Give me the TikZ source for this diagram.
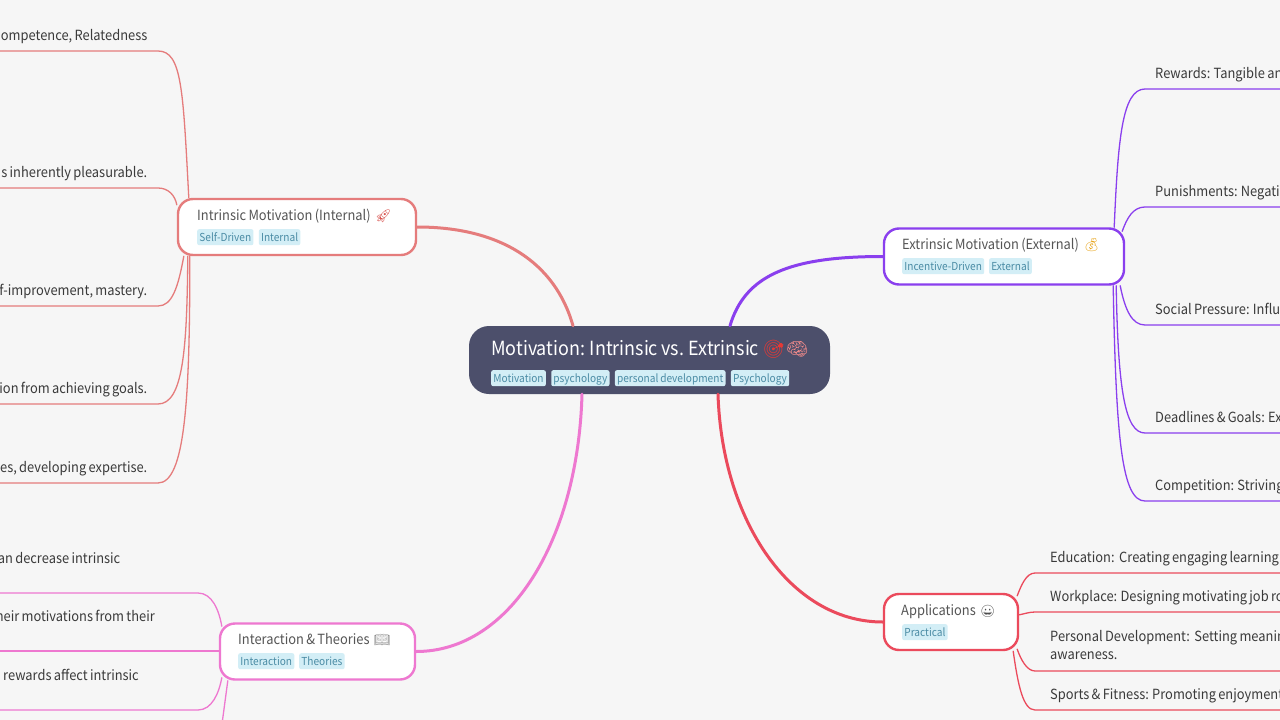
\documentclass[tikz,border=0pt]{standalone}
\usepackage{fontspec}
\setmainfont[FakeStretch=0.92,WordSpace=0.8]{Noto Sans CJK SC}
\newfontfamily\emojifont{Noto Emoji}
\usetikzlibrary{positioning}
\definecolor{pagebg}{HTML}{F6F6F6}
\definecolor{rootfill}{HTML}{4C4F6B}
\definecolor{intrinsiccol}{HTML}{E57C7C}
\definecolor{extrinsiccol}{HTML}{8A3FEE}
\definecolor{applicationscol}{HTML}{EB4A5C}
\definecolor{interactioncol}{HTML}{EE78D0}
\definecolor{tagfill}{HTML}{D3EEF6}
\definecolor{tagtext}{HTML}{4B8CA5}
\definecolor{leaftext}{HTML}{3A3A3A}
\definecolor{titletext}{HTML}{555555}
\definecolor{targetcol}{HTML}{E53935}
\definecolor{braincol}{HTML}{F08A8A}
\definecolor{rocketcol}{HTML}{D9534F}
\definecolor{moneycol}{HTML}{E8A317}
\begin{document}
\begin{tikzpicture}[x=1pt,y=-1pt,line cap=round,line join=round,
  rootbox/.style={fill=rootfill,rounded corners=20pt,inner sep=0pt},
  branchbox/.style={fill=white,line width=2.4pt,rounded corners=15pt,inner sep=0pt},
  roottitle/.style={anchor=base west,inner sep=0pt,text=white,font=\fontsize{19.5}{24}\selectfont},
  branchtitle/.style={anchor=base west,inner sep=0pt,text=titletext,font=\fontsize{14}{18}\selectfont},
  tagbox/.style={fill=tagfill,text=tagtext,rounded corners=2pt,inner xsep=2.2pt,inner ysep=2pt,text height=10pt,text depth=2pt,font=\fontsize{11}{13}\selectfont},
  leafleft/.style={anchor=base east,inner sep=0pt,text=leaftext,font=\fontsize{14}{18}\selectfont},
  leafright/.style={anchor=base west,inner sep=0pt,text=leaftext,font=\fontsize{14}{18}\selectfont},
  emojitext/.style={anchor=base west,inner sep=0pt},
  mainlink/.style={line width=3pt},
  leaflink/.style={line width=1.3pt}]
\path[use as bounding box,fill=pagebg] (0,0) rectangle (1280,720);
\node[rootbox,minimum width=361pt,minimum height=68pt] (root) at (649.5,360) {};
\node[branchbox,draw=intrinsiccol,minimum width=238pt,minimum height=56pt] (intrinsic) at (297,227) {};
\node[branchbox,draw=extrinsiccol,minimum width=240pt,minimum height=56pt] (extrinsic) at (1004,256.5) {};
\node[branchbox,draw=applicationscol,minimum width=134pt,minimum height=56pt] (applications) at (951,622) {};
\node[branchbox,draw=interactioncol,minimum width=195pt,minimum height=56pt] (interaction) at (317.5,651.5) {};
\coordinate (leafa) at (158,51);
\coordinate (leafb) at (158,188);
\coordinate (leafc) at (158,306);
\coordinate (leafd) at (158,404);
\coordinate (leafe) at (158,483);
\coordinate (lefta) at (0,51);
\coordinate (leftb) at (0,188);
\coordinate (leftc) at (0,306);
\coordinate (leftd) at (0,404);
\coordinate (lefte) at (0,483);
\coordinate (rewa) at (1145,89);
\coordinate (rewb) at (1145,207);
\coordinate (rewc) at (1145,325);
\coordinate (rewd) at (1145,433);
\coordinate (rewe) at (1145,501);
\coordinate (righta) at (1280,89);
\coordinate (rightb) at (1280,207);
\coordinate (rightc) at (1280,325);
\coordinate (rightd) at (1280,433);
\coordinate (righte) at (1280,501);
\coordinate (appa) at (1035,573);
\coordinate (appb) at (1035,612);
\coordinate (appc) at (1035,671);
\coordinate (appd) at (1035,710);
\coordinate (endappa) at (1280,573);
\coordinate (endappb) at (1280,612);
\coordinate (endappc) at (1280,671);
\coordinate (endappd) at (1280,710);
\coordinate (inta) at (198,593);
\coordinate (intc) at (198,710);
\coordinate (endinta) at (0,593);
\coordinate (endintb) at (0,651);
\coordinate (endintc) at (0,710);
\coordinate (endintd) at (222,724);
\draw[mainlink,draw=intrinsiccol] ([xshift=-76.5pt]root.north) .. controls (555,262) and (500,227) .. (intrinsic.east);
\draw[mainlink,draw=extrinsiccol] ([xshift=80.5pt]root.north) .. controls (745,275) and (790,256.5) .. (extrinsic.west);
\draw[mainlink,draw=applicationscol] ([xshift=68.5pt]root.south) .. controls (722,520) and (790,622) .. (applications.west);
\draw[mainlink,draw=interactioncol] ([xshift=-67.5pt]root.south) .. controls (578,540) and (510,651.5) .. (interaction.east);
\draw[leaflink,draw=intrinsiccol] ([xshift=12pt]intrinsic.north west) .. controls (183,90) and (182,51) .. (leafa) -- (lefta);
\draw[leaflink,draw=intrinsiccol] ([yshift=-7pt]intrinsic.north west) .. controls (175,195) and (168,188) .. (leafb) -- (leftb);
\draw[leaflink,draw=intrinsiccol] ([xshift=7pt]intrinsic.south west) .. controls (178,288) and (172,306) .. (leafc) -- (leftc);
\draw[leaflink,draw=intrinsiccol] ([xshift=11pt]intrinsic.south west) .. controls (187,350) and (183,404) .. (leafd) -- (leftd);
\draw[leaflink,draw=intrinsiccol] ([xshift=13pt]intrinsic.south west) .. controls (190,400) and (185,483) .. (leafe) -- (lefte);
\draw[leaflink,draw=extrinsiccol] ([xshift=-11pt]extrinsic.north east) .. controls (1118,140) and (1122,89) .. (rewa) -- (righta);
\draw[leaflink,draw=extrinsiccol] ([xshift=-3pt,yshift=-4pt]extrinsic.north east) .. controls (1127,218) and (1133,207) .. (rewb) -- (rightb);
\draw[leaflink,draw=extrinsiccol] ([xshift=-5pt]extrinsic.south east) .. controls (1125,310) and (1132,325) .. (rewc) -- (rightc);
\draw[leaflink,draw=extrinsiccol] ([xshift=-9pt]extrinsic.south east) .. controls (1118,390) and (1125,433) .. (rewd) -- (rightd);
\draw[leaflink,draw=extrinsiccol] ([xshift=-12pt]extrinsic.south east) .. controls (1116,440) and (1122,501) .. (rewe) -- (righte);
\draw[leaflink,draw=applicationscol] ([xshift=-2pt,yshift=-3pt]applications.north east) .. controls (1021,586) and (1026,573) .. (appa) -- (endappa);
\draw[leaflink,draw=applicationscol] ([yshift=-22pt]applications.north east) .. controls (1024,614) and (1029,612) .. (appb) -- (endappb);
\draw[leaflink,draw=applicationscol] ([xshift=-2pt,yshift=2pt]applications.south east) .. controls (1021,660) and (1027,671) .. (appc) -- (endappc);
\draw[leaflink,draw=applicationscol] ([xshift=-6pt]applications.south east) .. controls (1018,685) and (1023,710) .. (appd) -- (endappd);
\draw[leaflink,draw=interactioncol] ([xshift=3pt,yshift=-4pt]interaction.north west) .. controls (219,610) and (212,593) .. (inta) -- (endinta);
\draw[leaflink,draw=interactioncol] ([yshift=0.5pt]interaction.west) -- (endintb);
\draw[leaflink,draw=interactioncol] ([xshift=3pt,yshift=3pt]interaction.south west) .. controls (219,693) and (212,710) .. (intc) -- (endintc);
\draw[leaflink,draw=interactioncol] ([xshift=9pt]interaction.south west) -- (endintd);
\node[roottitle] (roottext) at (491,355) {Motivation: Intrinsic vs. Extrinsic};
\node[emojitext,text=targetcol,font=\emojifont\fontsize{18}{24}\selectfont] (rootemoja) at ([xshift=3pt]roottext.base east) {🎯};
\node[emojitext,text=braincol,font=\emojifont\fontsize{18}{24}\selectfont] (rootemojb) at (rootemoja.base east) {🧠};
\node[tagbox,anchor=north west] (tagmotivation) at (491,370) {Motivation};
\node[tagbox,right=5pt of tagmotivation] (tagpsychology) {psychology};
\node[tagbox,right=5pt of tagpsychology] (tagpersonal) {personal development};
\node[tagbox,right=5pt of tagpersonal] (tagPsychology) {Psychology};
\node[branchtitle] (intrinsictext) at (197,220.5) {Intrinsic Motivation (Internal)};
\node[emojitext,text=rocketcol,font=\emojifont\fontsize{13}{18}\selectfont] (intrinsicemoj) at ([xshift=4pt]intrinsictext.base east) {🚀};
\node[tagbox,anchor=north west] (tagselfdriven) at (197,229) {Self-Driven};
\node[tagbox,right=5pt of tagselfdriven] (taginternal) {Internal};
\node[branchtitle] (extrinsictext) at (902,249.5) {Extrinsic Motivation (External)};
\node[emojitext,text=moneycol,font=\emojifont\fontsize{13}{18}\selectfont] (extrinsicemoj) at ([xshift=4pt]extrinsictext.base east) {💰};
\node[tagbox,anchor=north west] (tagincentive) at (902,258) {Incentive-Driven};
\node[tagbox,right=4.5pt of tagincentive] (tagexternal) {External};
\node[branchtitle] (applicationstext) at (901,615.5) {Applications};
\node[emojitext,text=black!70,font=\emojifont\fontsize{12}{18}\selectfont] (applicationsemoj) at ([xshift=4pt]applicationstext.base east) {😀};
\node[tagbox,anchor=north west] (tagpractical) at (902,624) {Practical};
\node[branchtitle] (interactiontext) at (238,644.5) {Interaction \& Theories};
\node[emojitext,text=black!45,font=\emojifont\fontsize{13}{18}\selectfont] (interactionemoj) at ([xshift=4pt]interactiontext.base east) {📖};
\node[tagbox,anchor=north west] (taginteraction) at (238,653) {Interaction};
\node[tagbox,right=4.5pt of taginteraction] (tagtheories) {Theories};
\node[leafleft] (textinta) at (147.5,40) {ompetence, Relatedness};
\node[leafleft] (textintb) at (147.5,177) {s inherently pleasurable.};
\node[leafleft] (textintc) at (147.5,295) {f-improvement, mastery.};
\node[leafleft] (textintd) at (147.5,393.5) {ion from achieving goals.};
\node[leafleft] (textinte) at (147.5,472) {es, developing expertise.};
\node[leafleft] (textlowa) at (120.5,563) {an decrease intrinsic};
\node[leafleft] (textlowb) at (155,621.5) {heir motivations from their};
\node[leafleft] (textlowc) at (139,680) {rewards affect intrinsic};
\node[leafright] (textexta) at (1155,78.5) {Rewards: Tangible an};
\node[leafright] (textextb) at (1155,196.5) {Punishments: Negati};
\node[leafright] (textextc) at (1155,314.5) {Social Pressure: Influ};
\node[leafright] (textextd) at (1155,422.5) {Deadlines \& Goals: Ex};
\node[leafright] (textexte) at (1155,490.5) {Competition: Striving};
\node[leafright] (textappa) at (1050,562.5) {Education:\ \ Creating engaging learning};
\node[leafright] (textappb) at (1050,601.5) {Workplace: Designing motivating job ro};
\node[leafright] (textappc) at (1050,641.5) {Personal Development:\ \ Setting meanin};
\node[leafright] (textappd) at (1050,659.5) {awareness.};
\node[leafright] (textappe) at (1050,699.5) {Sports \& Fitness: Promoting enjoyment};
\end{tikzpicture}
\end{document}
